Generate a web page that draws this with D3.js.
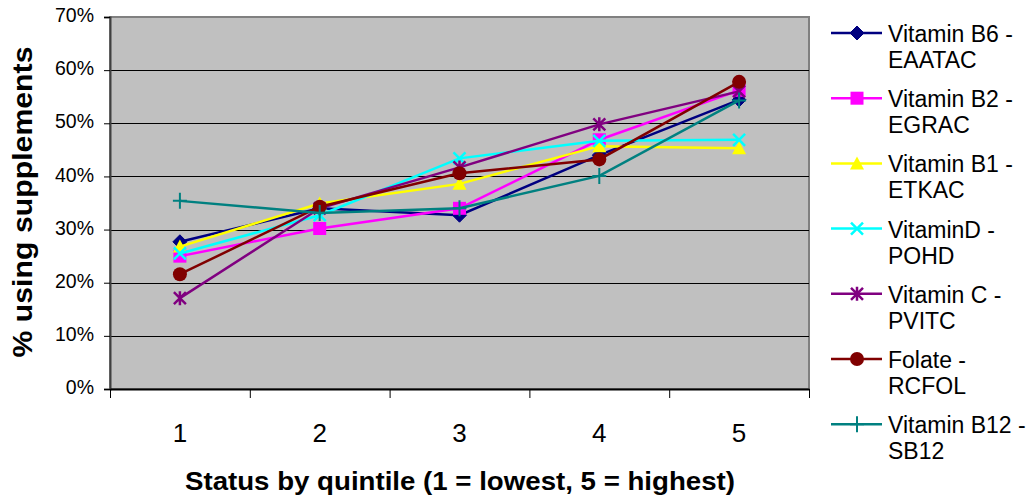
<!DOCTYPE html>
<html>
<head>
<meta charset="utf-8">
<script src="https://cdn.jsdelivr.net/npm/d3@7/dist/d3.min.js"></script>
<style>
  html, body { margin: 0; padding: 0; background: #ffffff; }
  svg { display: block; font-family: "Liberation Sans", Arial, sans-serif; }
</style>
</head>
<body>
<svg id="chart" width="1034" height="497"></svg>
<script>
// Quintile categories on the x axis
const quintiles = [1, 2, 3, 4, 5];
const yTicks = [0, 0.1, 0.2, 0.3, 0.4, 0.5, 0.6, 0.7];

// Share using supplements, by status quintile
const vitB6 = [0.277, 0.340, 0.327, 0.440, 0.544];
const vitB2 = [0.250, 0.302, 0.340, 0.469, 0.562];
const vitB1 = [0.268, 0.349, 0.386, 0.457, 0.453];
const vitD = [0.255, 0.327, 0.434, 0.467, 0.469];
const vitC = [0.171, 0.340, 0.417, 0.498, 0.560];
const folate = [0.216, 0.343, 0.406, 0.432, 0.578];
const vitB12 = [0.354, 0.331, 0.340, 0.401, 0.543];

const seriesNames = [
  ["Vitamin B6 -", "EAATAC"],
  ["Vitamin B2 -", "EGRAC"],
  ["Vitamin B1 -", "ETKAC"],
  ["VitaminD -", "POHD"],
  ["Vitamin C -", "PVITC"],
  ["Folate -", "RCFOL"],
  ["Vitamin B12 -", "SB12"]
];
const seriesValues = [vitB6, vitB2, vitB1, vitD, vitC, folate, vitB12];
const seriesColors = ["#000080", "#FF00FF", "#FFFF00", "#00FFFF", "#800080", "#800000", "#008080"];
const seriesMarkers = ["diamond", "square", "triangle", "cross", "star", "circle", "plus"];

const svg = d3.select("#chart");
const plot = { left: 110, right: 809, top: 17, bottom: 389 };

const x = d3.scaleLinear().domain([0.5, 5.5]).range([plot.left, plot.right]);
const y = d3.scaleLinear().domain([0, 0.7]).range([plot.bottom, plot.top]);

// Plot area background
svg.append("rect")
  .attr("x", plot.left).attr("y", plot.top)
  .attr("width", plot.right - plot.left).attr("height", plot.bottom - plot.top)
  .attr("fill", "#C0C0C0")
  .attr("stroke", "#808080").attr("stroke-width", 2);

// Horizontal gridlines
svg.append("g").selectAll("line")
  .data(yTicks.filter(t => t > 0 && t < 0.7))
  .join("line")
  .attr("x1", plot.left).attr("x2", plot.right)
  .attr("y1", d => Math.round(y(d)) + 0.5).attr("y2", d => Math.round(y(d)) + 0.5)
  .attr("stroke", "#000").attr("stroke-width", 1);

// Y axis
const yAxis = svg.append("g")
  .attr("transform", `translate(${plot.left},0)`)
  .call(d3.axisLeft(y).tickValues(yTicks).tickFormat(d3.format(".0%")).tickSize(6).tickPadding(10));
yAxis.select(".domain").attr("stroke", "#404040").attr("stroke-width", 2);
yAxis.selectAll(".tick line").attr("stroke", "#000");
yAxis.selectAll(".tick text").attr("font-size", 19.5).attr("fill", "#000").attr("dy", "0.24em")
  .attr("font-family", "Liberation Sans, Arial, sans-serif");

// X axis: tick marks on category boundaries, labels at category centres
const xAxis = svg.append("g")
  .attr("transform", `translate(0,${plot.bottom})`)
  .call(d3.axisBottom(x).tickValues(d3.range(0.5, 6, 1)).tickFormat("").tickSize(9).tickSizeOuter(0));
xAxis.select(".domain").attr("stroke", "#000").attr("stroke-width", 2);
xAxis.selectAll(".tick line").attr("stroke", "#000");

svg.append("g").selectAll("text")
  .data(quintiles)
  .join("text")
  .attr("x", d => x(d)).attr("y", 442)
  .attr("text-anchor", "middle")
  .attr("font-size", 26)
  .text(d => d);

// Axis titles
svg.append("text")
  .attr("x", 460).attr("y", 490)
  .attr("text-anchor", "middle")
  .attr("font-size", 26).attr("font-weight", "bold")
  .attr("textLength", 550).attr("lengthAdjust", "spacingAndGlyphs")
  .text("Status by quintile (1 = lowest, 5 = highest)");

svg.append("text")
  .attr("transform", "translate(32,202) rotate(-90)")
  .attr("text-anchor", "middle")
  .attr("font-size", 27).attr("font-weight", "bold")
  .attr("textLength", 311).attr("lengthAdjust", "spacingAndGlyphs")
  .text("% using supplements");

// Marker drawing
function drawMarker(g, type, color) {
  switch (type) {
    case "diamond":
      g.append("path").attr("d", "M0,-7L7,0L0,7L-7,0Z").attr("fill", color).attr("stroke", color);
      break;
    case "square":
      g.append("rect").attr("x", -6.5).attr("y", -6.5).attr("width", 13).attr("height", 13).attr("fill", color);
      break;
    case "triangle":
      g.append("path").attr("d", "M0,-7L7,6L-7,6Z").attr("fill", color);
      break;
    case "cross":
      g.append("path").attr("d", "M-6,-6L6,6M-6,6L6,-6").attr("stroke", color).attr("stroke-width", 2.5).attr("fill", "none");
      break;
    case "star":
      g.append("path").attr("d", "M-6,-6L6,6M-6,6L6,-6M0,-7L0,7").attr("stroke", color).attr("stroke-width", 2.5).attr("fill", "none");
      break;
    case "circle":
      g.append("circle").attr("r", 7).attr("fill", color);
      break;
    case "plus":
      g.append("path").attr("d", "M-7,0L7,0M0,-8L0,8").attr("stroke", color).attr("stroke-width", 2).attr("fill", "none");
      break;
  }
}

const line = d3.line().x((d, i) => x(quintiles[i])).y(d => y(d));

// Series lines and markers, drawn in series order
seriesValues.forEach((vals, s) => {
  const g = svg.append("g");
  g.append("path")
    .attr("d", line(vals))
    .attr("fill", "none")
    .attr("stroke", seriesColors[s])
    .attr("stroke-width", 2.5);
  vals.forEach((v, i) => {
    const m = g.append("g").attr("transform", `translate(${x(quintiles[i])},${y(v)})`);
    drawMarker(m, seriesMarkers[s], seriesColors[s]);
  });
});

// Legend
const legend = svg.append("g");
seriesNames.forEach((name, s) => {
  const cy = 33 + s * 65.2;
  const g = legend.append("g");
  g.append("line")
    .attr("x1", 831).attr("x2", 882).attr("y1", cy).attr("y2", cy)
    .attr("stroke", seriesColors[s]).attr("stroke-width", 2.5);
  const m = g.append("g").attr("transform", `translate(857,${cy})`);
  drawMarker(m, seriesMarkers[s], seriesColors[s]);
  g.append("text")
    .attr("x", 888).attr("y", cy + 9)
    .attr("font-size", 23)
    .text(name[0]);
  g.append("text")
    .attr("x", 888).attr("y", cy + 35)
    .attr("font-size", 23)
    .text(name[1]);
});
</script>
</body>
</html>
